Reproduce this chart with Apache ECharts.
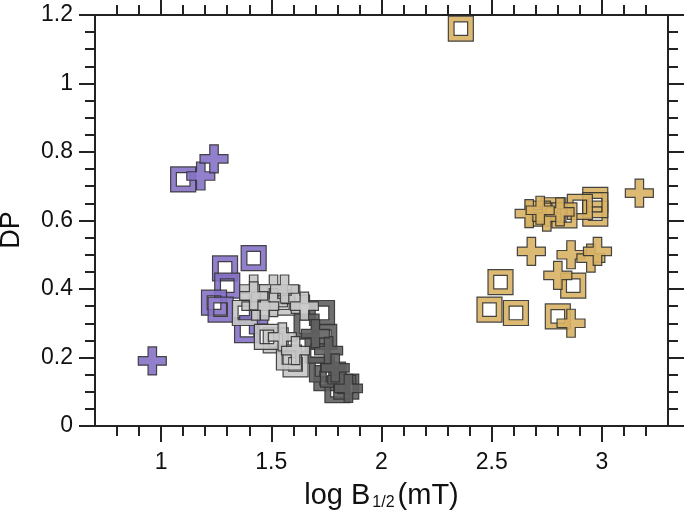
<!DOCTYPE html>
<html>
<head>
<meta charset="utf-8">
<script src="https://cdn.jsdelivr.net/npm/echarts@6/dist/echarts.min.js"></script>
<style>html,body{margin:0;padding:0;background:#fff}#c{width:685px;height:513px}</style>
</head>
<body>
<div id="c"></div>
<script>
// ---- data (log B1/2 in mT, DP) ----
const purpleSquares = [[1.10,0.72],[1.42,0.49],[1.29,0.46],[1.30,0.41],[1.24,0.36],[1.27,0.34],[1.39,0.28]];
const purplePlus    = [[0.96,0.19],[1.18,0.73],[1.24,0.78],[1.42,0.31]];
const darkSquares   = [[1.73,0.33],[1.74,0.26],[1.66,0.29],[1.75,0.14],[1.80,0.105],[1.73,0.165],[1.78,0.15],[1.84,0.115],[1.71,0.22]];
const darkPlus      = [[1.76,0.22],[1.82,0.135],[1.79,0.17],[1.85,0.11],[1.70,0.27]];
const lightSquares  = [[1.38,0.33],[1.52,0.25],[1.61,0.18],[1.58,0.20],[1.48,0.26],[1.55,0.36]];
const lightPlus     = [[1.42,0.40],[1.51,0.40],[1.51,0.36],[1.61,0.37],[1.43,0.35],[1.47,0.35],[1.42,0.38],[1.65,0.35],[1.55,0.26],[1.61,0.22],[1.56,0.40]];
const tanSquares    = [[2.36,1.16],[2.54,0.42],[2.49,0.34],[2.61,0.33],[2.87,0.41],[2.80,0.32],[2.97,0.66],[2.97,0.62],[2.97,0.645],[2.90,0.64],[2.78,0.63],[2.71,0.62],[2.83,0.615]];
const tanPlus       = [[3.17,0.68],[2.68,0.51],[2.86,0.50],[2.95,0.49],[2.98,0.51],[2.80,0.44],[2.86,0.30],[2.67,0.62],[2.75,0.61],[2.81,0.625],[2.72,0.63]];

const xMajorTicks = [1, 1.5, 2, 2.5, 3];
const xMinorTicks = [0.8,0.9,1.1,1.2,1.3,1.4,1.6,1.7,1.8,1.9,2.1,2.2,2.3,2.4,2.6,2.7,2.8,2.9,3.1,3.2];
const yTitle = 'DP';

const SQUARE = 'path://M0,0H24V24H0Z M5.5,5.5V18.5H18.5V5.5Z';
const PLUS = 'path://M9.75,0H18.25V9.75H28V18.25H18.25V28H9.75V18.25H0V9.75H9.75Z';

const COL = { purple:'#8672C8', dark:'#616161', light:'#C6C6C6', tan:'#D9B264' };

function sq(data, color){
  return {type:'scatter', data, symbol:SQUARE, symbolSize:25, xAxisIndex:0, yAxisIndex:0,
    itemStyle:{color, borderColor:'#333', borderWidth:1.2, opacity:0.9}, silent:true};
}
function pl(data, color){
  return {type:'scatter', data, symbol:PLUS, symbolSize:28, xAxisIndex:0, yAxisIndex:0,
    itemStyle:{color, borderColor:'#333', borderWidth:1.2, opacity:0.9}, silent:true};
}

const lineStyle = {color:'#222', width:2};
const font = 'Liberation Sans, Arial, sans-serif';

const chart = echarts.init(document.getElementById('c'));
chart.setOption({
  animation:false,
  grid:{left:95, right:17, top:15, bottom:87, containLabel:false, outerBoundsMode:'none'},
  graphic:[
    {type:'text', x:12, y:230, rotation:Math.PI/2,
     style:{text:yTitle, fontSize:27, fontFamily:font, fill:'#111', align:'center', verticalAlign:'middle'}}
  ],
  xAxis:[
    {type:'value', position:'bottom', min:0.7, max:3.3,
     axisLine:{show:true, onZero:false, lineStyle},
     axisTick:{show:true, inside:false, length:16, customValues:xMajorTicks, lineStyle},
     axisLabel:{show:true, customValues:xMajorTicks, margin:25, fontSize:23, color:'#111', fontFamily:font},
     splitLine:{show:false},
     name:'{a|log B}{s|1/2}{a|(mT)}', nameLocation:'middle', nameGap:55,
     nameTextStyle:{rich:{a:{fontSize:29, fontFamily:font, color:'#111'}, s:{fontSize:16, fontFamily:font, color:'#111', padding:[14,3,0,2]}}}},
    {type:'value', position:'bottom', min:0.7, max:3.3,
     axisLine:{show:false, onZero:false},
     axisTick:{show:true, inside:false, length:10, customValues:xMinorTicks, lineStyle},
     axisLabel:{show:false}, splitLine:{show:false}},
    {type:'value', position:'top', min:0.7, max:3.3,
     axisLine:{show:true, onZero:false, lineStyle},
     axisTick:{show:true, inside:false, length:16, customValues:xMajorTicks, lineStyle},
     axisLabel:{show:false}, splitLine:{show:false}},
    {type:'value', position:'top', min:0.7, max:3.3,
     axisLine:{show:false, onZero:false},
     axisTick:{show:true, inside:false, length:10, customValues:xMinorTicks, lineStyle},
     axisLabel:{show:false}, splitLine:{show:false}}
  ],
  yAxis:[
    {type:'value', position:'left', min:0, max:1.2, interval:0.2,
     axisLine:{show:true, onZero:false, lineStyle},
     axisTick:{show:true, inside:false, length:16, lineStyle},
     minorTick:{show:true, splitNumber:4, length:10, lineStyle},
     axisLabel:{show:true, margin:22, fontSize:23, color:'#111', fontFamily:font},
     splitLine:{show:false}, minorSplitLine:{show:false}},
    {type:'value', position:'right', min:0, max:1.2, interval:0.2,
     axisLine:{show:true, onZero:false, lineStyle},
     axisTick:{show:true, inside:false, length:16, lineStyle},
     minorTick:{show:true, splitNumber:4, length:10, lineStyle},
     axisLabel:{show:false}, splitLine:{show:false}, minorSplitLine:{show:false}}
  ],
  series:[
    sq(darkSquares, COL.dark), pl(darkPlus, COL.dark),
    sq(purpleSquares, COL.purple), pl(purplePlus, COL.purple),
    sq(lightSquares, COL.light), pl(lightPlus, COL.light),
    sq(tanSquares, COL.tan), pl(tanPlus, COL.tan)
  ]
});
</script>
</body>
</html>
